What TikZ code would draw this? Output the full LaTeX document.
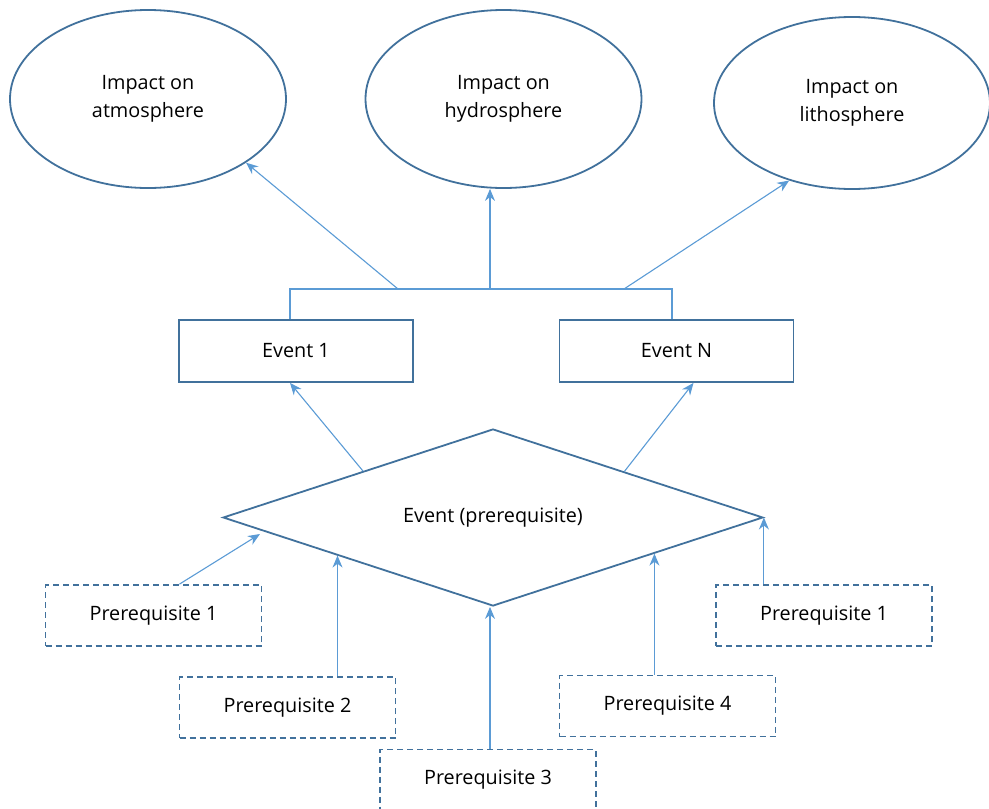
\documentclass[tikz,border=0pt]{standalone}
\usepackage{fontspec}
\setmainfont{Open Sans}
\usetikzlibrary{shapes.geometric,arrows.meta,calc}
\definecolor{bord}{HTML}{41719C}
\definecolor{arrc}{HTML}{5B9BD5}
\begin{document}
\begin{tikzpicture}[x=1pt,y=-1pt,
  every node/.style={font=\fontsize{19.8}{28}\selectfont, text=black},
  ell/.style={ellipse, draw=bord, line width=1.8pt, inner sep=0pt, minimum width=276pt, minimum height=178pt, align=center},
  evbox/.style={rectangle, draw=bord, line width=1.8pt, minimum width=234pt, minimum height=62pt, inner sep=0pt},
  prbox/.style={rectangle, draw=bord, line width=1.8pt, dash pattern=on 6pt off 4pt, minimum width=216pt, minimum height=61pt, inner sep=0pt},
  dia/.style={diamond, aspect=3.05, draw=bord, line width=1.8pt, minimum width=540pt, minimum height=177pt, inner sep=0pt},
  conn/.style={draw=arrc, line width=1.1pt},
  arr/.style={conn, -{Stealth[length=12pt,width=10pt]}}
]
\useasboundingbox (0,0) rectangle (989,809);
\node[ell] (atm) at (148,99) {Impact on\\atmosphere};
\node[ell] (hyd) at (503.5,99) {Impact on\\hydrosphere};
\node[ell, minimum height=172pt] (lit) at (852,103) {Impact on\\lithosphere};

\node[evbox] (ev1) at (296,351) {Event 1};
\node[evbox] (evn) at (676.5,351) {Event N};

\node[dia] (dia) at (493,517.5) {Event (prerequisite)};

\node[prbox] (p1l) at (153.5,615.5) {Prerequisite 1};
\node[prbox] (p2) at (287.5,707.5) {Prerequisite 2};
\node[prbox] (p3) at (488,780) {Prerequisite 3};
\node[prbox] (p4) at (667.5,706) {Prerequisite 4};
\node[prbox] (p1r) at (824,615.5) {Prerequisite 1};

% top connector
\coordinate (jl) at (290,289);
\coordinate (jr) at (672,289);
\coordinate (ja) at (398,289);
\coordinate (jh) at (490,289);
\coordinate (jt) at (624,289);
\draw[conn] (ev1.north -| jl) -- (jl) -- (jr) -- (evn.north -| jr);
\draw[arr] (ja) -- (atm.-33);
\draw[arr] (jh) -- (hyd.south -| jh);
\draw[arr] (jt) -- (lit.-129);

% diamond to events
\coordinate (dl) at ($(dia.west)!0.52!(dia.north)$);
\coordinate (dr) at ($(dia.north)!0.485!(dia.east)$);
\draw[arr] (dl) -- ($(ev1.south)+(-6,0)$);
\draw[arr] (dr) -- ($(evn.south)+(17,0)$);

% prerequisites to diamond
\coordinate (t1) at (260,534);
\draw[arr] ($(p1l.north)+(26,0)$) -- (t1);
\coordinate (t2) at ($(dia.west)!0.426!(dia.south)$);
\draw[arr] (p2.north -| t2) -- (t2);
\draw[arr] (p3.north -| 490,0) -- (dia.south -| 490,0);
\coordinate (t4) at ($(dia.south)!0.596!(dia.east)$);
\draw[arr] (p4.north -| t4) -- (t4);
\draw[arr] (p1r.north -| dia.east) -- (dia.east);
\end{tikzpicture}
\end{document}
